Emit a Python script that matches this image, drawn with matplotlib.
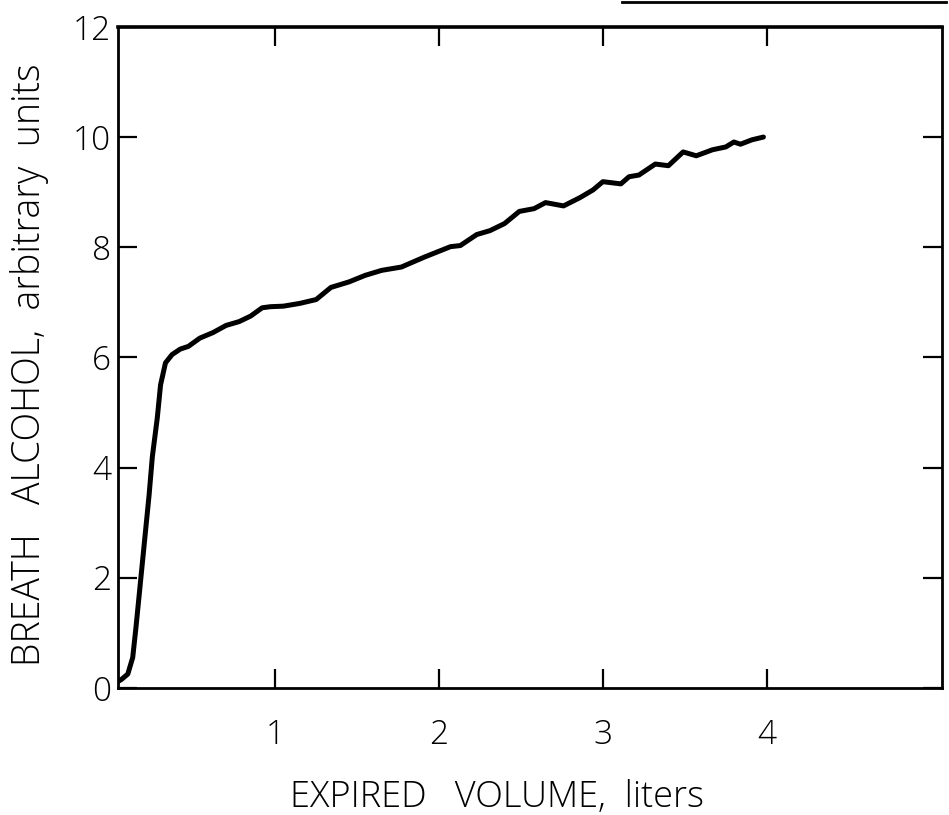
import numpy as np
import matplotlib
matplotlib.use("Agg")
import matplotlib.pyplot as plt
from matplotlib.lines import Line2D

# 细笔画字体，接近原图的描字
plt.rcParams['font.family'] = ['Open Sans', 'DejaVu Sans']
plt.rcParams['font.weight'] = 'light'

# ===== 数据 =====
volume = [0.02, 0.06, 0.10, 0.13, 0.15, 0.17, 0.20, 0.23, 0.25, 0.28, 0.30,
          0.33, 0.37, 0.42, 0.47, 0.54, 0.62, 0.70, 0.78, 0.85, 0.92, 0.97,
          1.05, 1.15, 1.25, 1.34, 1.45, 1.55, 1.65, 1.77, 1.91, 2.07, 2.13,
          2.23, 2.31, 2.40, 2.49, 2.58, 2.65, 2.76, 2.86, 2.94, 3.00, 3.11,
          3.16, 3.22, 3.32, 3.40, 3.49, 3.57, 3.67, 3.75, 3.80, 3.84, 3.91,
          3.98]
alcohol = [0.08, 0.15, 0.25, 0.55, 1.1, 1.7, 2.6, 3.5, 4.2, 4.9, 5.5,
           5.9, 6.05, 6.15, 6.2, 6.35, 6.45, 6.58, 6.65, 6.75, 6.9, 6.92,
           6.93, 6.98, 7.05, 7.27, 7.37, 7.49, 7.58, 7.64, 7.82, 8.01, 8.03,
           8.23, 8.30, 8.43, 8.65, 8.70, 8.81, 8.75, 8.90, 9.04, 9.19, 9.15,
           9.28, 9.31, 9.51, 9.48, 9.73, 9.66, 9.77, 9.82, 9.91, 9.87, 9.95,
           10.0]

xticks = [1, 2, 3, 4]
yticks = [0, 2, 4, 6, 8, 10, 12]

fig = plt.figure(figsize=(9.49, 8.15), dpi=100)
ax = fig.add_axes([0.1243, 0.156, 0.8683, 0.811])

ax.plot(volume, alcohol, color='black', lw=3.6, solid_capstyle='round',
        solid_joinstyle='round')

ax.set_xlim(0.04, 5.07)
ax.set_ylim(0, 12)
ax.set_xticks(xticks)
ax.set_yticks(yticks)
ax.tick_params(direction='in', length=14, width=1.6, top=True, right=True,
               labelsize=24, color='black')
ax.tick_params(axis='x', pad=22)
ax.tick_params(axis='y', pad=5)
for sp in ax.spines.values():
    sp.set_linewidth(2.0)
ax.spines['top'].set_linewidth(2.6)

fig.text(0.524, 0.022, "EXPIRED   VOLUME,  liters", fontsize=26,
         ha='center', va='center')
fig.text(0.031, 0.553, "BREATH   ALCOHOL,  arbitrary  units", fontsize=27,
         ha='center', va='center', rotation=90)

# 原扫描图顶部右侧的残留横线
fig.add_artist(Line2D([0.655, 0.997], [0.997, 0.997], transform=fig.transFigure,
                      color='black', lw=2.0))

fig.savefig("out.png", dpi=100)
